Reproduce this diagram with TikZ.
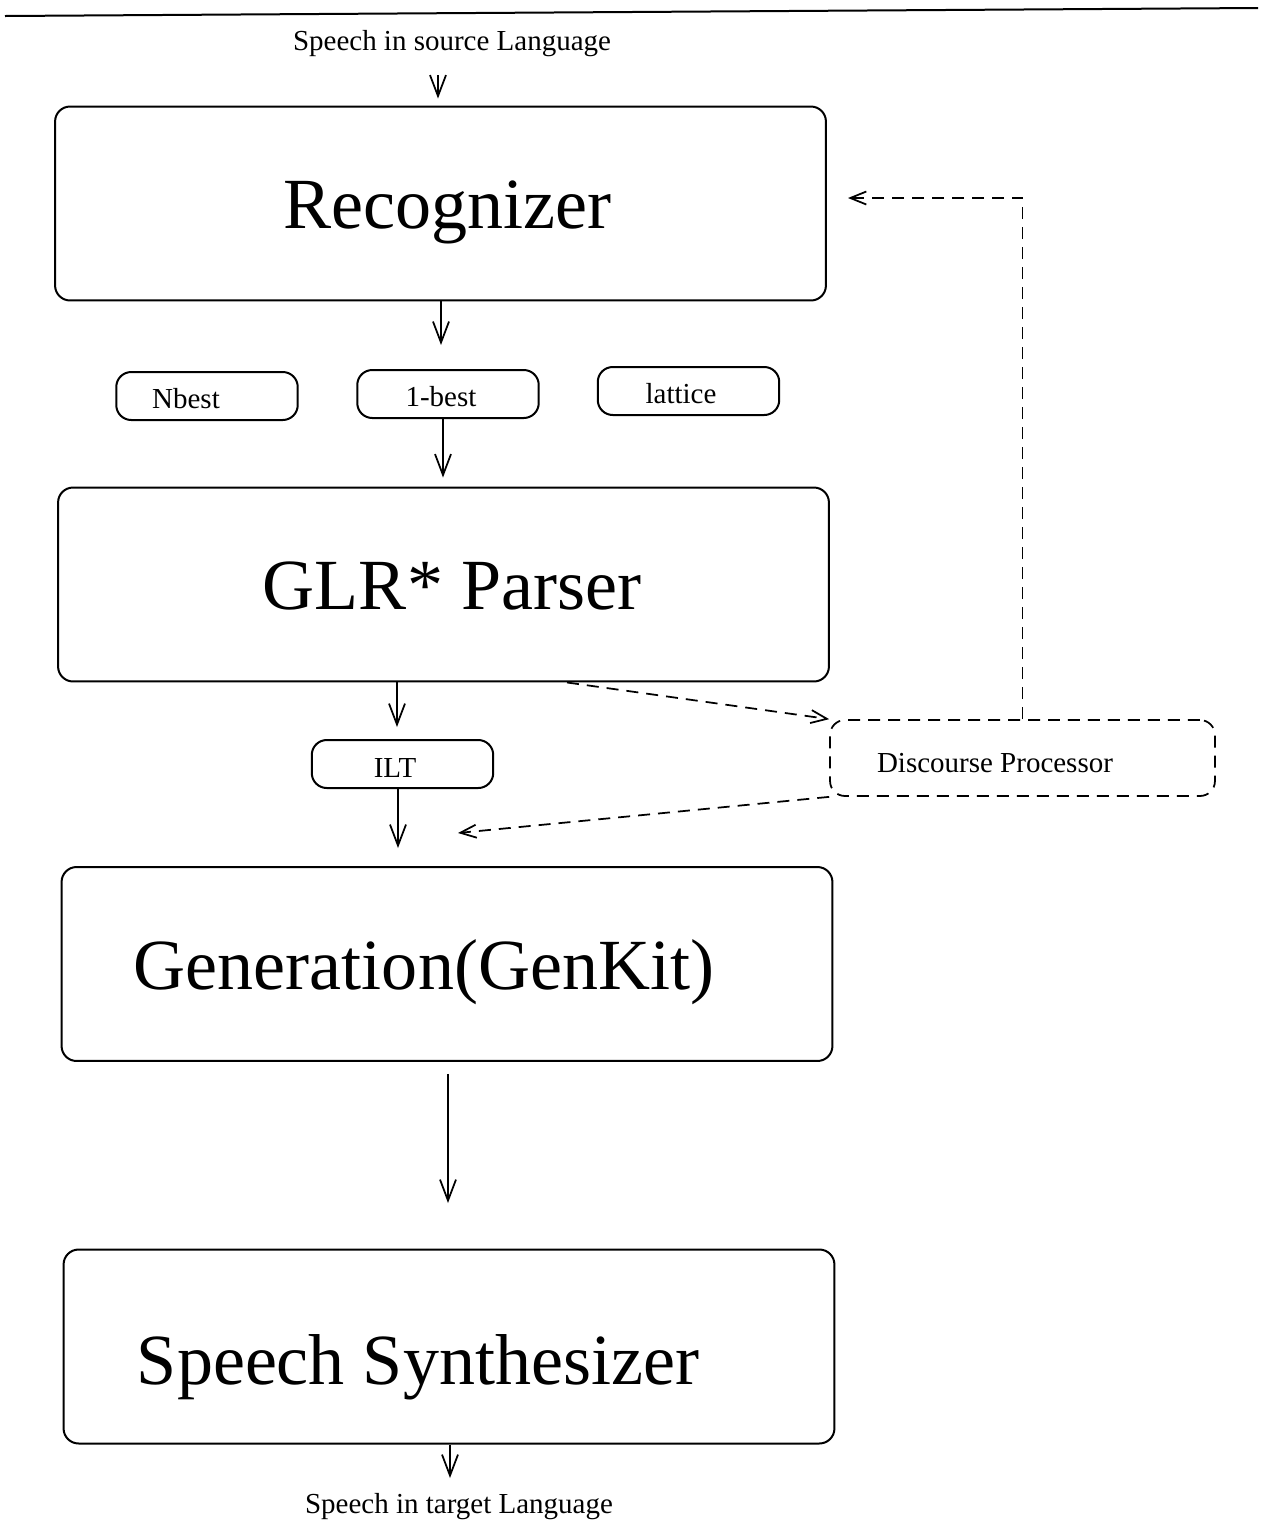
\documentclass[tikz,border=0pt]{standalone}
\usepackage{fontspec}
\setmainfont{Liberation Serif}
\usetikzlibrary{arrows.meta}
\begin{document}
\begin{tikzpicture}[x=0.02cm,y=-0.02cm,
  bigbox/.style={draw,line width=0.04cm,rounded corners=0.3cm,minimum width=15.42cm,minimum height=3.88cm,inner sep=0pt},
  smallbox/.style={draw,line width=0.04cm,rounded corners=0.3cm,minimum width=3.63cm,minimum height=0.96cm,inner sep=0pt},
  dbox/.style={draw,line width=0.035cm,dash pattern=on 0.24cm off 0.16cm,rounded corners=0.3cm,minimum width=7.7cm,minimum height=1.52cm,inner sep=0pt},
  bigtxt/.style={font=\fontsize{41}{48}\selectfont,anchor=base,inner sep=0pt},
  smalltxt/.style={font=\fontsize{16.5}{20}\selectfont,anchor=base,inner sep=0pt},
  arr/.style={line width=0.035cm,-{Straight Barb[length=0.42cm,width=0.32cm,line width=0.035cm]}},
  darr/.style={line width=0.035cm,dash pattern=on 0.24cm off 0.16cm,-{Straight Barb[length=0.32cm,width=0.26cm,line width=0.035cm]}}
]
\useasboundingbox (0,0) rectangle (1261,1522);
\draw[line width=0.04cm] (5,16) -- (1258,8);

% boxes
\node[bigbox] (rec) at (440.5,203.5) {};
\node[bigbox] (glr) at (443.5,584.5) {};
\node[bigbox] (gen) at (447,964) {};
\node[bigbox] (syn) at (449,1346.5) {};
\node[smallbox] (nbest) at (207,396) {};
\node[smallbox] (onebest) at (448,394) {};
\node[smallbox] (lattice) at (688.5,391) {};
\node[smallbox] (ilt) at (402.5,764) {};
\node[dbox] (dp) at (1022.5,758) {};

% texts
\node[smalltxt] (src) at (452,50) {Speech in source Language};
\node[bigtxt] (recT) at (447,228) {Recognizer};
\node[smalltxt] (nbestT) at (186,408) {Nbest};
\node[smalltxt] (onebestT) at (441,406) {1-best};
\node[smalltxt] (latticeT) at (681,403) {lattice};
\node[bigtxt] (glrT) at (452,609) {GLR* Parser};
\node[smalltxt] (iltT) at (395,777) {ILT};
\node[smalltxt] (dpT) at (995,772) {Discourse Processor};
\node[bigtxt] (genT) at (424,989) {Generation(GenKit)};
\node[bigtxt] (synT) at (418,1384) {Speech Synthesizer};
\node[smalltxt] (tgt) at (459,1513) {Speech in target Language};

% coordinates
\coordinate (c1) at (438,75);
\coordinate (c2) at (441,345);
\coordinate (c3) at (443,0);
\coordinate (c4) at (397,0);
\coordinate (c5) at (398,848);
\coordinate (c6) at (567,0);
\coordinate (c7) at (458,833);
\coordinate (c8) at (848,198);
\coordinate (c9) at (448,1203);
\coordinate (c10) at (450,1478);

% solid arrows
\draw[arr,shorten >=0.14cm] (c1) -- (c1 |- rec.north);
\draw[arr] (c2 |- rec.south) -- (c2);
\draw[arr,shorten >=0.18cm] (c3 |- onebest.south) -- (c3 |- glr.north);
\draw[arr,shorten >=0.24cm] (c4 |- glr.south) -- (c4 |- ilt.north);
\draw[arr] (c5 |- ilt.south) -- (c5);
\draw[arr,shorten <=0.24cm] (c9 |- gen.south) -- (c9);
\draw[arr] (c10 |- syn.south) -- (c10);

% dashed arrows
\draw[darr] (c6 |- glr.south) -- (dp.north west);
\draw[darr] (dp.south west) -- (c7);
\draw[darr] (dp.north) |- (c8);
\end{tikzpicture}
\end{document}
